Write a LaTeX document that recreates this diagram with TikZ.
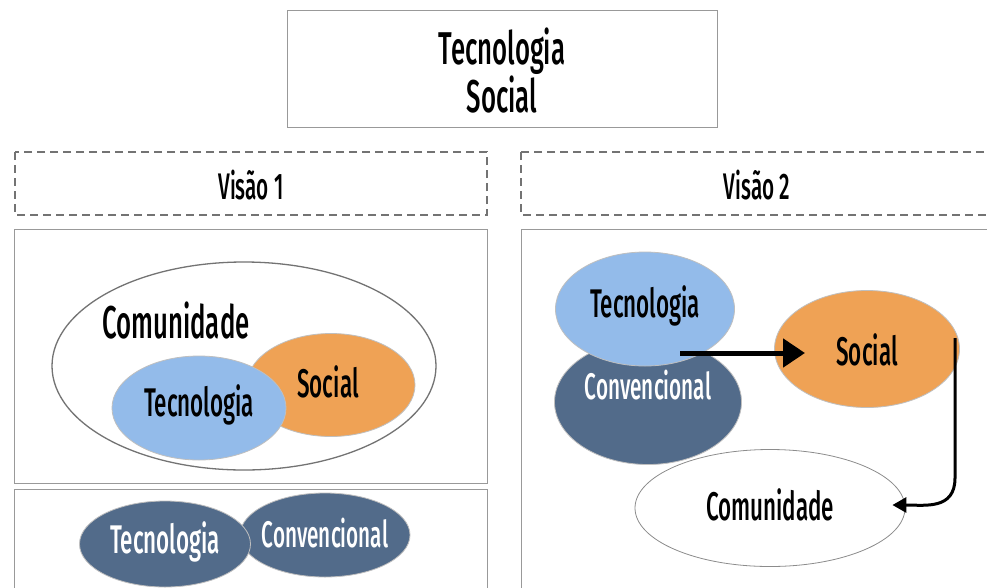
\documentclass[tikz,border=0pt]{standalone}
\usepackage{fontspec}
\setmainfont{Fira Sans Medium}[FakeStretch=0.56]
\usetikzlibrary{shapes.geometric,arrows.meta}
\definecolor{azul}{HTML}{93BBEA}
\definecolor{laranja}{HTML}{EFA255}
\definecolor{escuro}{HTML}{526B8A}
\tikzset{
	caixa/.style={draw=black!40, line width=1pt},
	tracejada/.style={draw=black!55, line width=2pt, dash pattern=on 8pt off 5pt},
	elipse/.style={ellipse, draw=black!25, line width=0.8pt, inner sep=0pt},
	rotulo/.style={font=\fontsize{40}{44}\selectfont},
	rotulolongo/.style={font=\fontsize{37}{40}\selectfont},
}

\begin{document}
\begin{tikzpicture}[x=1pt,y=-1pt]
	\clip (0,0) rectangle (987,587);
	\fill[white] (0,0) rectangle (987,587);
	% titulo
	\draw[caixa] (287,10) rectangle (717,127);
	\node[align=center, font=\fontsize{46}{48}\selectfont] (titulo) at (502,71) {Tecnologia\\Social};
	% cabecalhos
	\draw[tracejada] (15,152) rectangle (487,215);
	\node[font=\fontsize{37}{40}\selectfont] (visao1) at (251,185) {Visão 1};
	\draw[tracejada] (521,152) rectangle (995,215);
	\node[font=\fontsize{37}{40}\selectfont] (visao2) at (757,185) {Visão 2};
	% paineis
	\draw[caixa] (14,229) rectangle (487,483);
	\draw[caixa] (14,489) rectangle (487,600);
	\draw[caixa] (521,229) rectangle (995,600);
	% visao 1
	\node[elipse, draw=black!55, line width=1.3pt, fill=white, minimum width=384, minimum height=208] (com1) at (244,366) {};
	\node[font=\fontsize{46}{48}\selectfont] (comtxt1) at (176,321) {Comunidade};
	\node[elipse, fill=laranja, minimum width=168, minimum height=103] (soc1) at (331,385) {};
	\node[rotulo] at (328,382) {Social};
	\node[elipse, fill=azul, minimum width=174, minimum height=104] (tec1) at (199,408) {};
	\node[rotulo] at (199,405) {Tecnologia};
	\node[elipse, fill=escuro, minimum width=170, minimum height=84] (conv1) at (325,535) {};
	\node[rotulolongo, text=white] at (325,533) {Convencional};
	\node[elipse, fill=escuro, minimum width=171, minimum height=86] (tec3) at (165,544) {};
	\node[rotulo, text=white] at (165,542) {Tecnologia};
	% visao 2
	\node[elipse, fill=escuro, minimum width=187, minimum height=125] (conv2) at (648,402) {};
	\node[rotulolongo, text=white] at (648,385) {Convencional};
	\node[elipse, fill=azul, minimum width=179, minimum height=114] (tec2) at (645,309) {};
	\node[rotulo] at (645,306) {Tecnologia};
	\node[elipse, fill=laranja, minimum width=185, minimum height=117] (soc2) at (867,349) {};
	\node[rotulo] at (867,350) {Social};
	\node[elipse, draw=black!45, fill=white, minimum width=270, minimum height=117] (com2) at (770,508) {};
	\node[rotulo] at (770,505) {Comunidade};
	% setas
	\coordinate (s1) at (680,353);
	\coordinate (e1) at (805,353);
	\draw[line width=5pt, -{Triangle[length=22pt,width=28pt]}] (s1) -- (e1);
	\coordinate (s2) at (955,338);
	\draw[line width=3pt, -{Triangle[length=14pt,width=15pt]}] (s2) -- (955,478) .. controls (955,510) and (925,505) .. ([xshift=-13pt,yshift=3pt]com2.east);
\end{tikzpicture}
\end{document}
